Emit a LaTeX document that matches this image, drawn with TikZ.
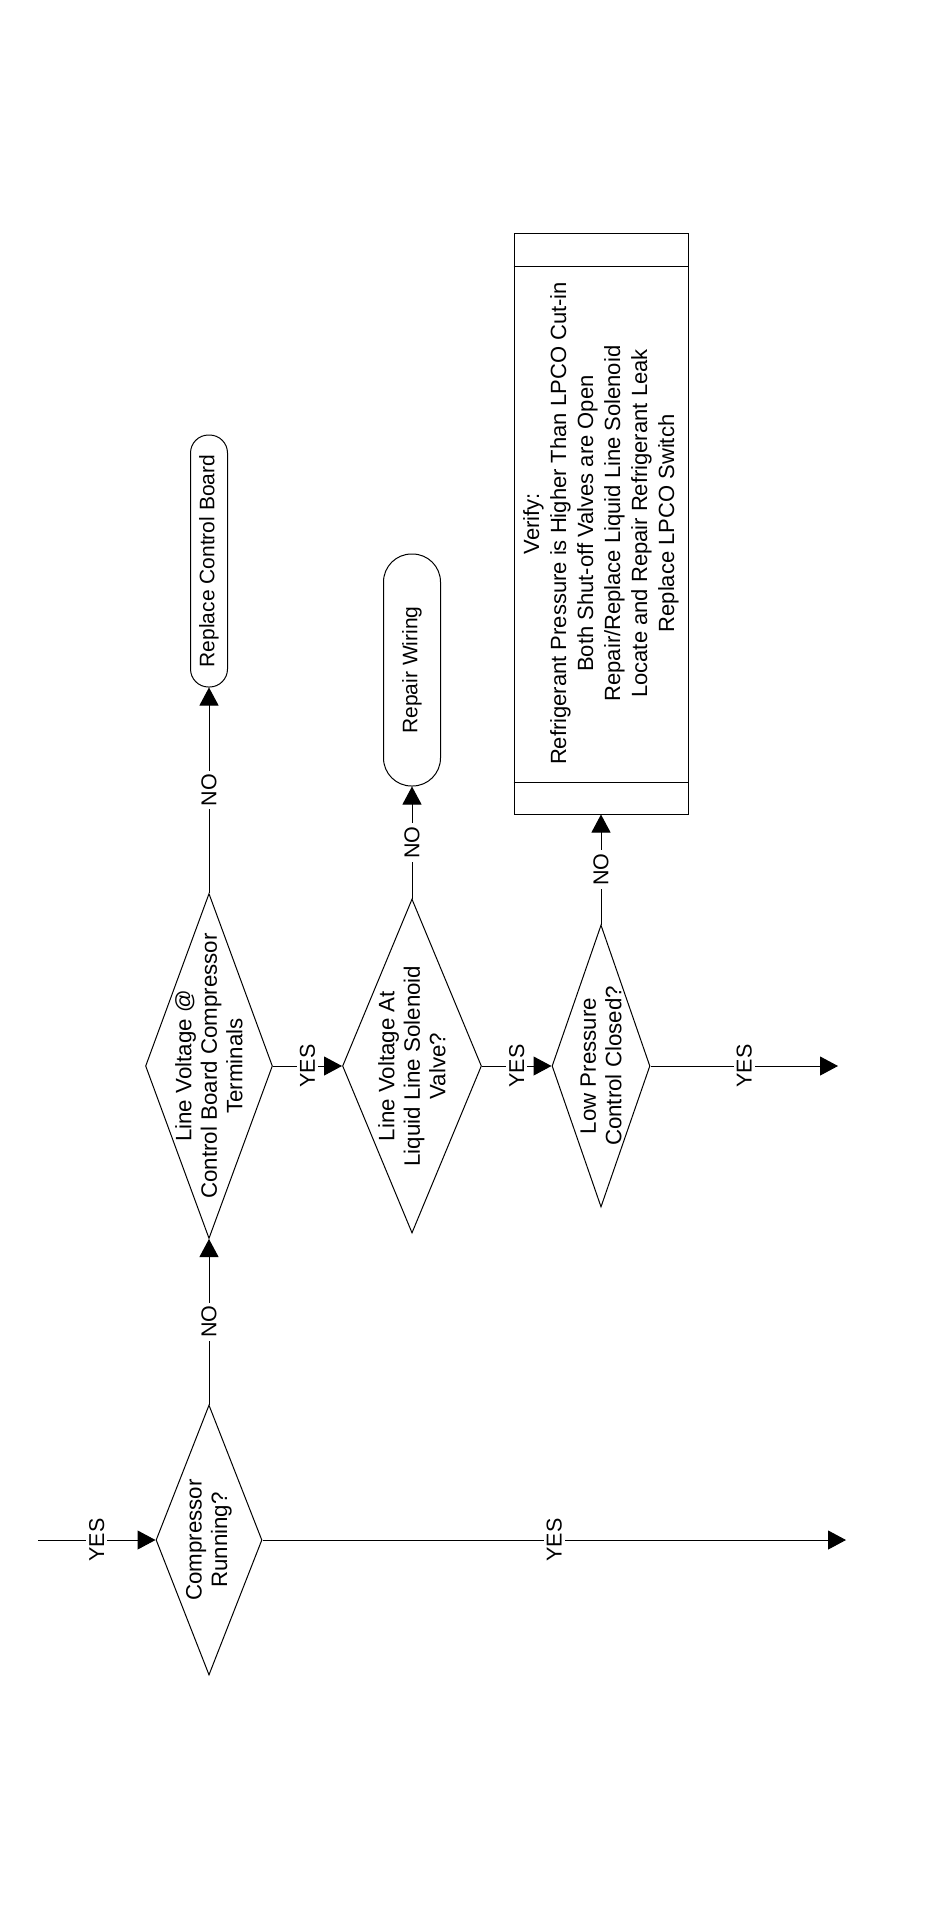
\documentclass[tikz,border=0pt]{standalone}
\usepackage{fontspec}
\setmainfont{Liberation Sans}
\usetikzlibrary{shapes.geometric,arrows.meta}

\tikzset{
  chart/.style={x=1pt, y=-1pt, line width=1pt,
    >={Triangle[length=18pt,width=19pt]},
    font=\fontsize{21.5}{25.5}\selectfont},
  decision/.style={draw, diamond, inner sep=0pt},
  term/.style={draw, rectangle, rounded corners=#1, rotate=90, inner sep=0pt,
    font=\fontsize{21}{25}\selectfont},
  txt/.style={rotate=90, align=center, inner sep=0pt,
    font=\fontsize{22.3}{25.5}\selectfont},
  lbl/.style={fill=white, rotate=90, inner sep=3pt, midway},
  arr/.style={->}
}

\begin{document}
\begin{tikzpicture}[chart]
\useasboundingbox (0,0) rectangle (950,1921);

% ---- decisions ----
\node[decision, minimum width=106pt, minimum height=270pt] (run) at (209,1540) {};
\node[txt] (runtxt) at (run) {Compressor\\Running?};

\node[decision, minimum width=127pt, minimum height=345pt] (lvcb) at (209,1066) {};
\node[txt] (lvcbtxt) at (lvcb) {Line Voltage @\\Control Board Compressor\\Terminals};

\node[decision, minimum width=139pt, minimum height=334pt] (lvls) at (412,1066) {};
\node[txt] (lvlstxt) at (lvls) {Line Voltage At\\Liquid Line Solenoid\\Valve?};

\node[decision, minimum width=98pt, minimum height=282pt] (lpc) at (601,1066) {};
\node[txt] (lpctxt) at (lpc) {Low Pressure\\Control Closed?};

% ---- actions ----
\node[term=18pt, minimum width=252pt, minimum height=37pt] (rcb) at (209,561) {Replace Control Board};
\node[term=28pt, minimum width=232pt, minimum height=57pt] (rw) at (412,670) {Repair Wiring};

\node[draw, minimum width=174pt, minimum height=581pt, inner sep=0pt] (verify) at (601,523.5) {};
\draw ([yshift=-34pt]verify.north west) -- ([yshift=-34pt]verify.north east);
\draw ([yshift=32pt]verify.south west) -- ([yshift=32pt]verify.south east);
\node[txt, font=\fontsize{22}{27}\selectfont] (verifytxt) at (verify) {Verify:\\Refrigerant Pressure is Higher Than LPCO Cut-in\\Both Shut-off Valves are Open\\Repair/Replace Liquid Line Solenoid\\Locate and Repair Refrigerant Leak\\Replace LPCO Switch};

% ---- free ends ----
\coordinate (start) at (38,1540);
\coordinate (endrun) at (846,1540);
\coordinate (endlpc) at (838,1066);

% ---- connectors ----
\draw[arr] (start) -- (run.west) node[lbl] {YES};
\draw[arr] (run.east) -- (endrun) node[lbl] {YES};
\draw[arr] (run.north) -- (lvcb.south) node[lbl] {NO};
\draw[arr] (lvcb.north) -- (rcb) node[lbl] {NO};
\draw[arr] (lvcb.east) -- (lvls.west) node[lbl] {YES};
\draw[arr] (lvls.north) -- (rw) node[lbl] {NO};
\draw[arr] (lvls.east) -- (lpc.west) node[lbl] {YES};
\draw[arr] (lpc.north) -- (verify.south) node[lbl] {NO};
\draw[arr] (lpc.east) -- (endlpc) node[lbl] {YES};

\end{tikzpicture}
\end{document}
